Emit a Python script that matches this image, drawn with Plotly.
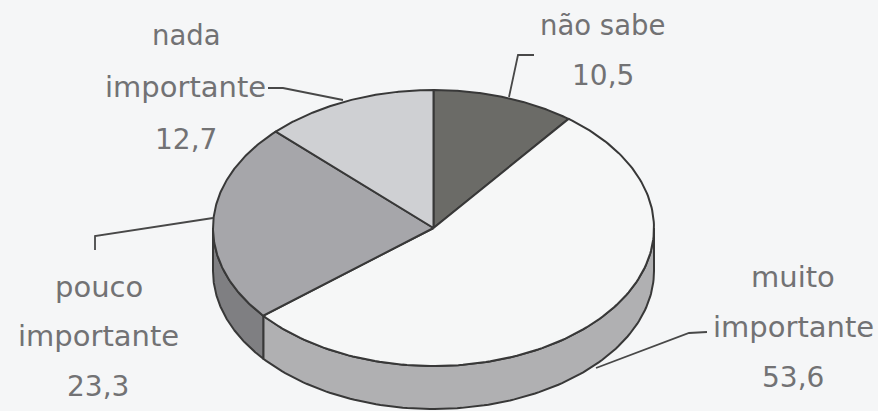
import numpy as np
import plotly.graph_objects as go

# Shares of each answer, clockwise from 12 o'clock
categories = ["não sabe", "muito importante", "pouco importante", "nada importante"]
values = [10.5, 53.6, 23.3, 12.7]
value_labels = ["10,5", "53,6", "23,3", "12,7"]

top_colors = ["#6b6b67", "#f6f7f7", "#a6a6aa", "#cfd0d3"]
side_colors = ["#5a5a58", "#b0b0b2", "#7f7f82", "#a0a0a2"]
EDGE = "#383838"
TEXT = "#727274"
PAPER = "#f5f6f7"

# Ellipse of the top face and depth of the rim, in page pixels
CX, CY, RX, RY, DEPTH = 433.5, 228, 220.5, 138, 43


def rim_point(theta, dy=0.0):
    return CX + RX * np.sin(theta), CY - RY * np.cos(theta) + dy


total = sum(values)
edges = np.radians(np.cumsum([0] + values) / total * 360)

fig = go.Figure()


def add_poly(xs, ys, fill, width=2):
    fig.add_trace(go.Scatter(
        x=xs, y=ys, mode="lines", fill="toself", fillcolor=fill,
        line=dict(color=EDGE, width=width), hoverinfo="skip", showlegend=False,
    ))


# Rim walls: only the front half of the disc is visible
for start, end, side in zip(edges[:-1], edges[1:], side_colors):
    a, b = max(start, np.pi / 2), min(end, 3 * np.pi / 2)
    if a >= b:
        continue
    t = np.linspace(a, b, 120)
    x_top, y_top = rim_point(t)
    x_bot, y_bot = rim_point(t[::-1], DEPTH)
    add_poly(np.r_[x_top, x_bot, x_top[0]], np.r_[y_top, y_bot, y_top[0]], side)

# Top face slices
for start, end, top in zip(edges[:-1], edges[1:], top_colors):
    t = np.linspace(start, end, 160)
    x_arc, y_arc = rim_point(t)
    add_poly(np.r_[CX, x_arc, CX], np.r_[CY, y_arc, CY], top)

# Leader lines from the labels to their slices
leaders = [
    ([509, 518, 534], [97, 55, 55]),
    ([707, 689, 596], [332, 333, 368]),
    ([95, 95, 213], [250, 236, 218]),
    ([268, 283, 343], [88, 88, 100]),
]
for lx, ly in leaders:
    fig.add_trace(go.Scatter(x=lx, y=ly, mode="lines", line=dict(color="#484848", width=1.8),
                             hoverinfo="skip", showlegend=False))

# Label stacks: each row is (text, x centre, y centre, font size)
label_rows = [
    ("não sabe", 602, 25, 27.5), (value_labels[0], 603, 75, 28),
    ("muito", 793, 277, 29), ("importante", 793, 327, 29), (value_labels[1], 793, 377, 28),
    ("pouco", 99, 287, 29), ("importante", 98, 336, 29), (value_labels[2], 98, 386, 28),
    ("nada", 186, 35, 27.5), ("importante", 185, 87, 29), (value_labels[3], 186, 139, 28),
]
for text, x, y, size in label_rows:
    fig.add_annotation(x=x, y=y, text=text, showarrow=False, xanchor="center", yanchor="middle",
                       font=dict(family="DejaVu Sans", size=size, color=TEXT))

fig.update_layout(
    width=878, height=411, margin=dict(l=0, r=0, t=0, b=0),
    paper_bgcolor=PAPER, plot_bgcolor=PAPER, showlegend=False,
    xaxis=dict(range=[0, 878], visible=False, fixedrange=True),
    yaxis=dict(range=[411, 0], visible=False, fixedrange=True),
)
fig.write_html("out.html", config={"displayModeBar": False})
